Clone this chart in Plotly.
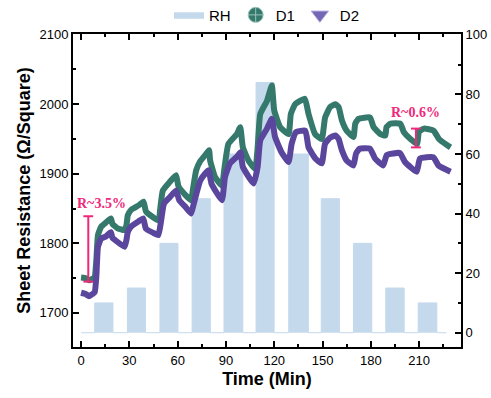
import plotly.graph_objects as go

# ---------------- data ----------------
# RH humidity pulses (%RH): start time, end time (min), level
rh_start = [8.5, 28.8, 49.0, 69.0, 88.8, 108.7, 129.0, 149.2, 169.2, 189.3, 209.4]
rh_end   = [19.8, 40.0, 60.2, 80.3, 100.5, 119.9, 141.2, 160.5, 180.6, 200.7, 221.0]
rh_level = [10, 15, 30, 45, 60, 84, 60, 45, 30, 15, 10]
rh_t0, rh_t1 = 0.0, 227.0

# D1 sheet resistance (Ohm/sq)
d1_t = [0, 3, 5, 7, 8.5, 9.5, 10.5, 12.5, 15.5, 18.5, 19.5, 22.5, 27, 28.2, 29, 31, 36, 38.8,
        40.3, 44.5, 48.3, 49.1, 50.8, 55, 59, 60.5, 65, 68.4, 69.4, 71.5, 74, 77.5, 79.5,
        80.2, 83.3, 87.5, 88.9, 91.5, 96.8, 98.9, 100.5, 104, 108.2, 109.7, 111.3, 115.5, 118.5,
        120, 123.7, 128.9, 130.3, 133, 139, 141.3, 145.4, 149.5, 151.6, 154.7, 158, 160,
        162, 165, 169.2, 170.3, 172.3, 179.5, 181.7, 186, 189, 189.7, 192, 198.3,
        200.5, 204.6, 208.8, 209.8, 213, 219, 222.3, 227.5, 229.5]
d1_v = [1751, 1750, 1747, 1749, 1752, 1776, 1812, 1824, 1830, 1836, 1828, 1822, 1819, 1826, 1840, 1848, 1855, 1860,
        1846, 1838, 1833, 1848, 1876, 1888, 1898, 1882, 1869, 1862, 1876, 1905, 1918, 1928, 1934,
        1919, 1895, 1883, 1905, 1943, 1957, 1967, 1938, 1919, 1907, 1938, 1986, 2005, 2027,
        1991, 1967, 1957, 1986, 2000, 2008, 1986, 1957, 1950, 1981, 1996, 2000, 1996,
        1977, 1962, 1953, 1972, 1979, 1981, 1967, 1957, 1955, 1967, 1972, 1972,
        1960, 1950, 1943, 1960, 1965, 1962, 1950, 1941, 1938]

# D2 sheet resistance (Ohm/sq)
d2_t = [0, 3, 5, 7, 8.5, 9.5, 10.5, 12.5, 15.5, 18.5, 19.5, 21, 27, 28.2, 29, 31, 36, 38.6,
        40.3, 45, 48, 49.5, 51.5, 55, 59, 61, 65, 68.4, 70, 74, 77, 79.3,
        81, 87.5, 89.4, 92.5, 97, 99, 100.5, 107.2, 109.7, 111.3, 115.5, 118.5,
        120.5, 124.5, 128.9, 130.8, 133.5, 139.3, 141.3, 145.5, 149.5, 151.5, 154.7, 158, 160,
        162, 165, 169.2, 170.8, 173, 179.5, 182.6, 187.7, 189.9, 198,
        201.2, 208.5, 210.5, 218.8, 222, 229.5]
d2_v = [1729, 1727, 1724, 1727, 1730, 1752, 1795, 1807, 1810, 1816, 1808, 1805, 1795, 1805, 1816, 1824, 1832, 1836,
        1821, 1815, 1812, 1829, 1857, 1866, 1876, 1862, 1852, 1843, 1857, 1890, 1900, 1905,
        1886, 1862, 1895, 1915, 1925, 1931, 1910, 1886, 1910, 1948, 1965, 1979,
        1953, 1931, 1917, 1943, 1960, 1962, 1938, 1922, 1915, 1943, 1952, 1955, 1950,
        1934, 1919, 1912, 1929, 1936, 1936, 1922, 1912, 1927, 1930,
        1917, 1903, 1922, 1924, 1912, 1903]

# response annotations
ann_t = [4.5, 208.0]
ann_lo = [1745, 1938]
ann_hi = [1839, 1965]
ann_text = ["R~3.5%", "R~0.6%"]
ann_text_t = [12.5, 207.5]
ann_text_v = [1857, 1988]

x_ticks = [0, 30, 60, 90, 120, 150, 180, 210]

# ---------------- styling ----------------
RH_COLOR = "#c5d9ed"
D1_COLOR = "#35796d"
D2_COLOR = "#5a469c"
PINK = "#f0287a"

# build RH square wave
rx, ry = [rh_t0], [0]
for s, e, lv in zip(rh_start, rh_end, rh_level):
    rx += [s, s, e, e]
    ry += [0, lv, lv, 0]
rx.append(rh_t1)
ry.append(0)

fig = go.Figure()
fig.add_trace(go.Scatter(x=rx, y=ry, mode="lines", fill="tozeroy", fillcolor=RH_COLOR,
                         line=dict(color=RH_COLOR, width=1), name="RH", yaxis="y",
                         legendrank=1))
fig.add_trace(go.Scatter(x=d1_t, y=d1_v, mode="lines",
                         line=dict(color=D1_COLOR, width=6, shape="spline", smoothing=0.4),
                         showlegend=False, yaxis="y2"))
fig.add_trace(go.Scatter(x=d2_t, y=d2_v, mode="lines",
                         line=dict(color=D2_COLOR, width=6, shape="spline", smoothing=0.4),
                         showlegend=False, yaxis="y2"))
# legend-only markers
fig.add_trace(go.Scatter(x=[None], y=[None], mode="markers", name="D1", yaxis="y2", legendrank=2,
                         marker=dict(symbol="circle-cross", size=15, color=D1_COLOR,
                                     line=dict(color="#9cc4bb", width=1))))
fig.add_trace(go.Scatter(x=[None], y=[None], mode="markers", name="D2", yaxis="y2", legendrank=3,
                         marker=dict(symbol="triangle-down", size=15, color="#7565b5",
                                     line=dict(color="#b0a6dc", width=1))))
# response bars
for t, lo, hi in zip(ann_t, ann_lo, ann_hi):
    fig.add_trace(go.Scatter(x=[t, t], y=[lo, hi], mode="lines+markers", showlegend=False,
                             yaxis="y2", line=dict(color=PINK, width=2),
                             marker=dict(symbol="line-ew-open", size=7,
                                         line=dict(color=PINK, width=2))))
for t, v, txt in zip(ann_text_t, ann_text_v, ann_text):
    fig.add_annotation(x=t, y=v, xref="x", yref="y2", text=f"<b>{txt}</b>", showarrow=False,
                       font=dict(family="Liberation Serif", size=14, color=PINK))

axis_common = dict(showline=True, linecolor="black", linewidth=2, ticks="inside",
                   ticklen=6, tickwidth=2, tickcolor="black", showgrid=False, zeroline=False,
                   tickfont=dict(family="Liberation Sans", size=13, color="black"))

fig.update_layout(
    width=491, height=398,
    margin=dict(l=73, r=30, t=34, b=51, autoexpand=False),
    plot_bgcolor="white", paper_bgcolor="white",
    font=dict(family="Liberation Sans", color="black"),
    xaxis=dict(range=[-5, 236], tickvals=x_ticks, mirror="ticks",
               minor=dict(dtick=15, tick0=0, ticks="inside", ticklen=3, tickwidth=2, tickcolor="black"),
               title=dict(text="<b>Time (Min)</b>", font=dict(size=18), standoff=6),
               **axis_common),
    yaxis=dict(range=[-4.8, 100.3], side="right", dtick=20, tick0=0,
               minor=dict(dtick=10, tick0=0, ticks="inside", ticklen=3, tickwidth=2, tickcolor="black"),
               **axis_common),
    yaxis2=dict(range=[1651, 2101], side="left", overlaying="y", dtick=100, tick0=1700,
                minor=dict(dtick=50, tick0=1700, ticks="inside", ticklen=3, tickwidth=2, tickcolor="black"),
                title=dict(text="<b>Sheet Resistance (Ω/Square)</b>", font=dict(size=18), standoff=4),
                **axis_common),
    legend=dict(orientation="h", x=0.5, xanchor="center", xref="paper",
                y=0.962, yanchor="middle", yref="container",
                font=dict(family="Liberation Sans", size=15), itemwidth=30,
                bgcolor="rgba(0,0,0,0)"),
)

fig.write_html("out.html", config={"displayModeBar": False},
               post_script="document.body.style.margin='0';document.body.style.overflow='hidden';")
